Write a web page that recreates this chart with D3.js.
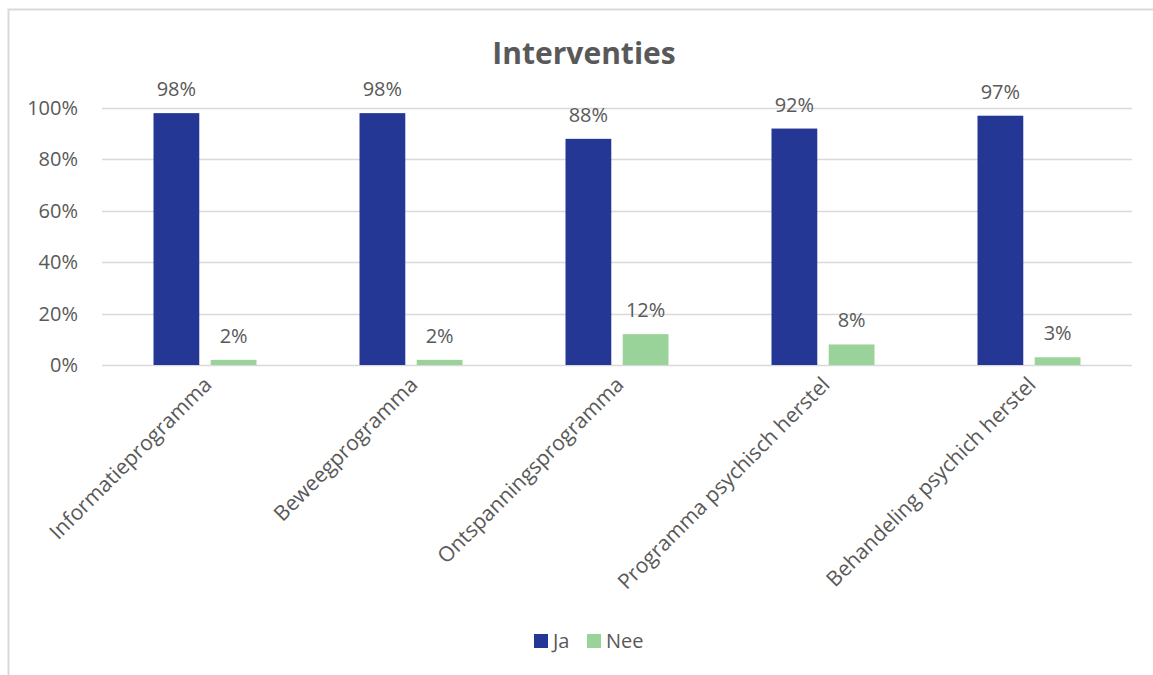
<!DOCTYPE html>
<html>
<head>
<meta charset="utf-8">
<script src="https://cdn.jsdelivr.net/npm/d3@7"></script>
<style>
  body { margin: 0; background: #fff; }
  text { font-family: "Open Sans", sans-serif; fill: #595959; }
</style>
</head>
<body>
<svg id="chart" width="1153" height="675"></svg>
<script>
// data
var categories = ["Informatieprogramma", "Beweegprogramma", "Ontspanningsprogramma", "Programma psychisch herstel", "Behandeling psychich herstel"];
var seriesNames = ["Ja", "Nee"];
var jaValues = [98, 98, 88, 92, 97];
var neeValues = [2, 2, 12, 8, 3];
var yTicks = [0, 20, 40, 60, 80, 100];
var colors = ["#243795", "#99d39a"];

var svg = d3.select("#chart");

// outer frame
svg.append("rect")
  .attr("x", 8.5).attr("y", 9.5)
  .attr("width", 1160).attr("height", 700)
  .attr("fill", "none").attr("stroke", "#d9d9d9").attr("stroke-width", 2);

var margin = {left: 102, right: 21, top: 108, bottom: 310};
var width = 1153 - margin.left - margin.right;
var height = 675 - margin.top - margin.bottom;

var g = svg.append("g").attr("transform", "translate(" + margin.left + "," + margin.top + ")");

var x0 = d3.scaleBand().domain(categories).range([0, width]).paddingInner(0.5).paddingOuter(0.25);
var x1 = d3.scaleBand().domain(seriesNames).range([0, x0.bandwidth()]).paddingInner(0.2);
var y = d3.scaleLinear().domain([0, 100]).range([height, 0]);

// gridlines
g.selectAll(".grid").data(yTicks).enter().append("line")
  .attr("x1", 0).attr("x2", width)
  .attr("y1", function(d) { return Math.round(y(d)) + 0.5; })
  .attr("y2", function(d) { return Math.round(y(d)) + 0.5; })
  .attr("stroke", "#d9d9d9").attr("stroke-width", 1.5);

// y tick labels
g.selectAll(".ytick").data(yTicks).enter().append("text")
  .attr("x", -24).attr("y", function(d) { return y(d); })
  .attr("dy", "0.35em")
  .attr("text-anchor", "end")
  .style("font-size", "20px")
  .text(function(d) { return d + "%"; });

var rows = categories.map(function(c, i) {
  return {cat: c, vals: [{s: "Ja", v: jaValues[i]}, {s: "Nee", v: neeValues[i]}]};
});

var groups = g.selectAll(".cat").data(rows).enter().append("g")
  .attr("transform", function(d) { return "translate(" + x0(d.cat) + ",0)"; });

groups.selectAll("rect").data(function(d) { return d.vals; }).enter().append("rect")
  .attr("x", function(d) { return x1(d.s); })
  .attr("width", x1.bandwidth())
  .attr("y", function(d) { return y(d.v); })
  .attr("height", function(d) { return height - y(d.v); })
  .attr("fill", function(d, i) { return colors[i]; });

groups.selectAll(".lbl").data(function(d) { return d.vals; }).enter().append("text")
  .attr("x", function(d) { return x1(d.s) + x1.bandwidth() / 2; })
  .attr("y", function(d) { return y(d.v) - 17; })
  .attr("text-anchor", "middle")
  .style("font-size", "20px")
  .text(function(d) { return d.v + "%"; });

// category labels, rotated
g.selectAll(".xlab").data(categories).enter().append("text")
  .attr("transform", function(d) {
    return "translate(" + (x0(d) + x0.bandwidth() / 2 + 8) + "," + (height + 21) + ") rotate(-45)";
  })
  .attr("text-anchor", "end")
  .style("font-size", "21px")
  .text(function(d) { return d; });

// title
svg.append("text")
  .attr("x", 584).attr("y", 64)
  .attr("text-anchor", "middle")
  .style("font-size", "30px").style("font-weight", "bold")
  .text("Interventies");

// legend
var legend = svg.append("g").attr("transform", "translate(534,634)");
var items = legend.selectAll("g").data(seriesNames).enter().append("g")
  .attr("transform", function(d, i) { return "translate(" + (i * 53) + ",0)"; });
items.append("rect").attr("width", 14).attr("height", 14)
  .attr("fill", function(d, i) { return colors[i]; });
items.append("text").attr("x", 19).attr("y", 7).attr("dy", "0.35em")
  .style("font-size", "20px")
  .text(function(d) { return d; });
</script>
</body>
</html>
